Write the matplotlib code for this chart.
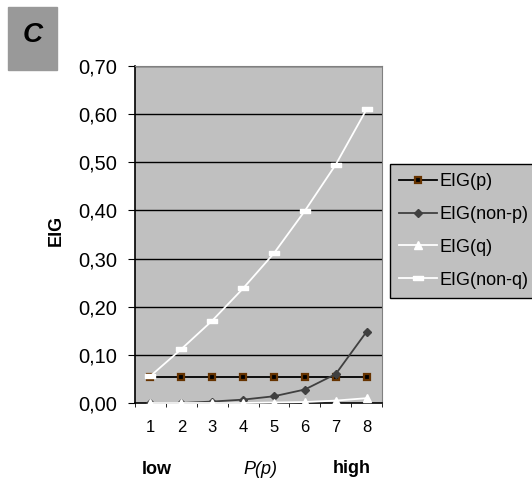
import matplotlib.pyplot as plt
import numpy as np

plt.rcParams['font.family'] = ['Liberation Sans', 'DejaVu Sans']

x = [1, 2, 3, 4, 5, 6, 7, 8]
eig_p = [0.055, 0.055, 0.055, 0.055, 0.055, 0.055, 0.055, 0.055]
eig_non_p = [0.0, 0.0, 0.003, 0.007, 0.014, 0.028, 0.060, 0.148]
eig_q = [0.0, 0.0, 0.0, 0.0, 0.001, 0.002, 0.005, 0.010]
eig_non_q = [0.056, 0.112, 0.171, 0.238, 0.311, 0.399, 0.495, 0.610]
yticks = [0.0, 0.1, 0.2, 0.3, 0.4, 0.5, 0.6, 0.7]
ytick_labels = ["0,00", "0,10", "0,20", "0,30", "0,40", "0,50", "0,60", "0,70"]

fig = plt.figure(figsize=(5.32, 4.82), dpi=100)
ax = fig.add_axes([135 / 532, 1 - 403 / 482, 247 / 532, 337 / 482])
ax.set_facecolor("#c0c0c0")

for v in yticks[1:]:
    ax.axhline(v, color="black", lw=1, zorder=1)

ax.plot(x, eig_p, color="black", lw=1.3, marker="s", ms=5,
        mfc="black", mec="#663300", mew=1.6, label="EIG(p)", zorder=3)
ax.plot(x, eig_non_p, color="#404040", lw=1.3, marker="D", ms=4.5,
        mfc="#404040", mec="#404040", label="EIG(non-p)", zorder=3)
ax.plot(x, eig_q, color="white", lw=1.3, marker="^", ms=6,
        mfc="white", mec="white", label="EIG(q)", zorder=3, clip_on=False)
bar = [(-1, -0.35), (1, -0.35), (1, 0.35), (-1, 0.35), (-1, -0.35)]
ax.plot(x, eig_non_q, color="white", lw=1.3, marker=bar, ms=7,
        mfc="white", mec="white", label="EIG(non-q)", zorder=4, clip_on=False)

ax.set_xlim(0.5, 8.5)
ax.set_ylim(0, 0.7)
ax.set_yticks(yticks)
ax.set_yticklabels(ytick_labels, fontsize=14.5)
ax.set_xticks(x)
ax.set_xticklabels([str(i) for i in x], fontsize=12)
ax.set_xticks(np.arange(0.5, 9, 1), minor=True)
ax.tick_params(axis="x", which="major", length=0, pad=12)
ax.tick_params(axis="x", which="minor", length=3, direction="out", color="black")
ax.tick_params(axis="y", length=5, direction="out", color="black", pad=8)

for s in ["top", "right"]:
    ax.spines[s].set_color("#808080")
for s in ["left", "bottom"]:
    ax.spines[s].set_color("black")
    ax.spines[s].set_linewidth(1.2)

fig.text(56 / 532, 1 - 230 / 482, "EIG", fontsize=13, fontweight="bold",
         rotation=90, ha="center", va="center")

fig.text(157 / 532, 1 - 474 / 482, "low", fontsize=13, fontweight="bold",
         ha="center", va="baseline")
fig.text(260 / 532, 1 - 474 / 482, "P(p)", fontsize=13, fontstyle="italic",
         ha="center", va="baseline")
fig.text(352 / 532, 1 - 473 / 482, "high", fontsize=13, fontweight="bold",
         ha="center", va="baseline")

leg = fig.legend(loc="upper left", bbox_to_anchor=(390 / 532, 1 - 164 / 482),
                 borderaxespad=0, fontsize=13, frameon=True, fancybox=False,
                 handlelength=2.1, handletextpad=0.15, borderpad=0.5,
                 labelspacing=0.88)
leg.get_frame().set_facecolor("#c0c0c0")
leg.get_frame().set_edgecolor("black")
leg.get_frame().set_alpha(1)

# panel letter
fig.patches.append(plt.Rectangle((8 / 532, 1 - 70 / 482), 49 / 532, 63 / 482,
                                 transform=fig.transFigure, color="#999999"))
fig.text(33 / 532, 1 - 35 / 482, "C", fontsize=20, fontweight="bold",
         fontstyle="italic", ha="center", va="center")

fig.savefig("out.png", dpi=100)
